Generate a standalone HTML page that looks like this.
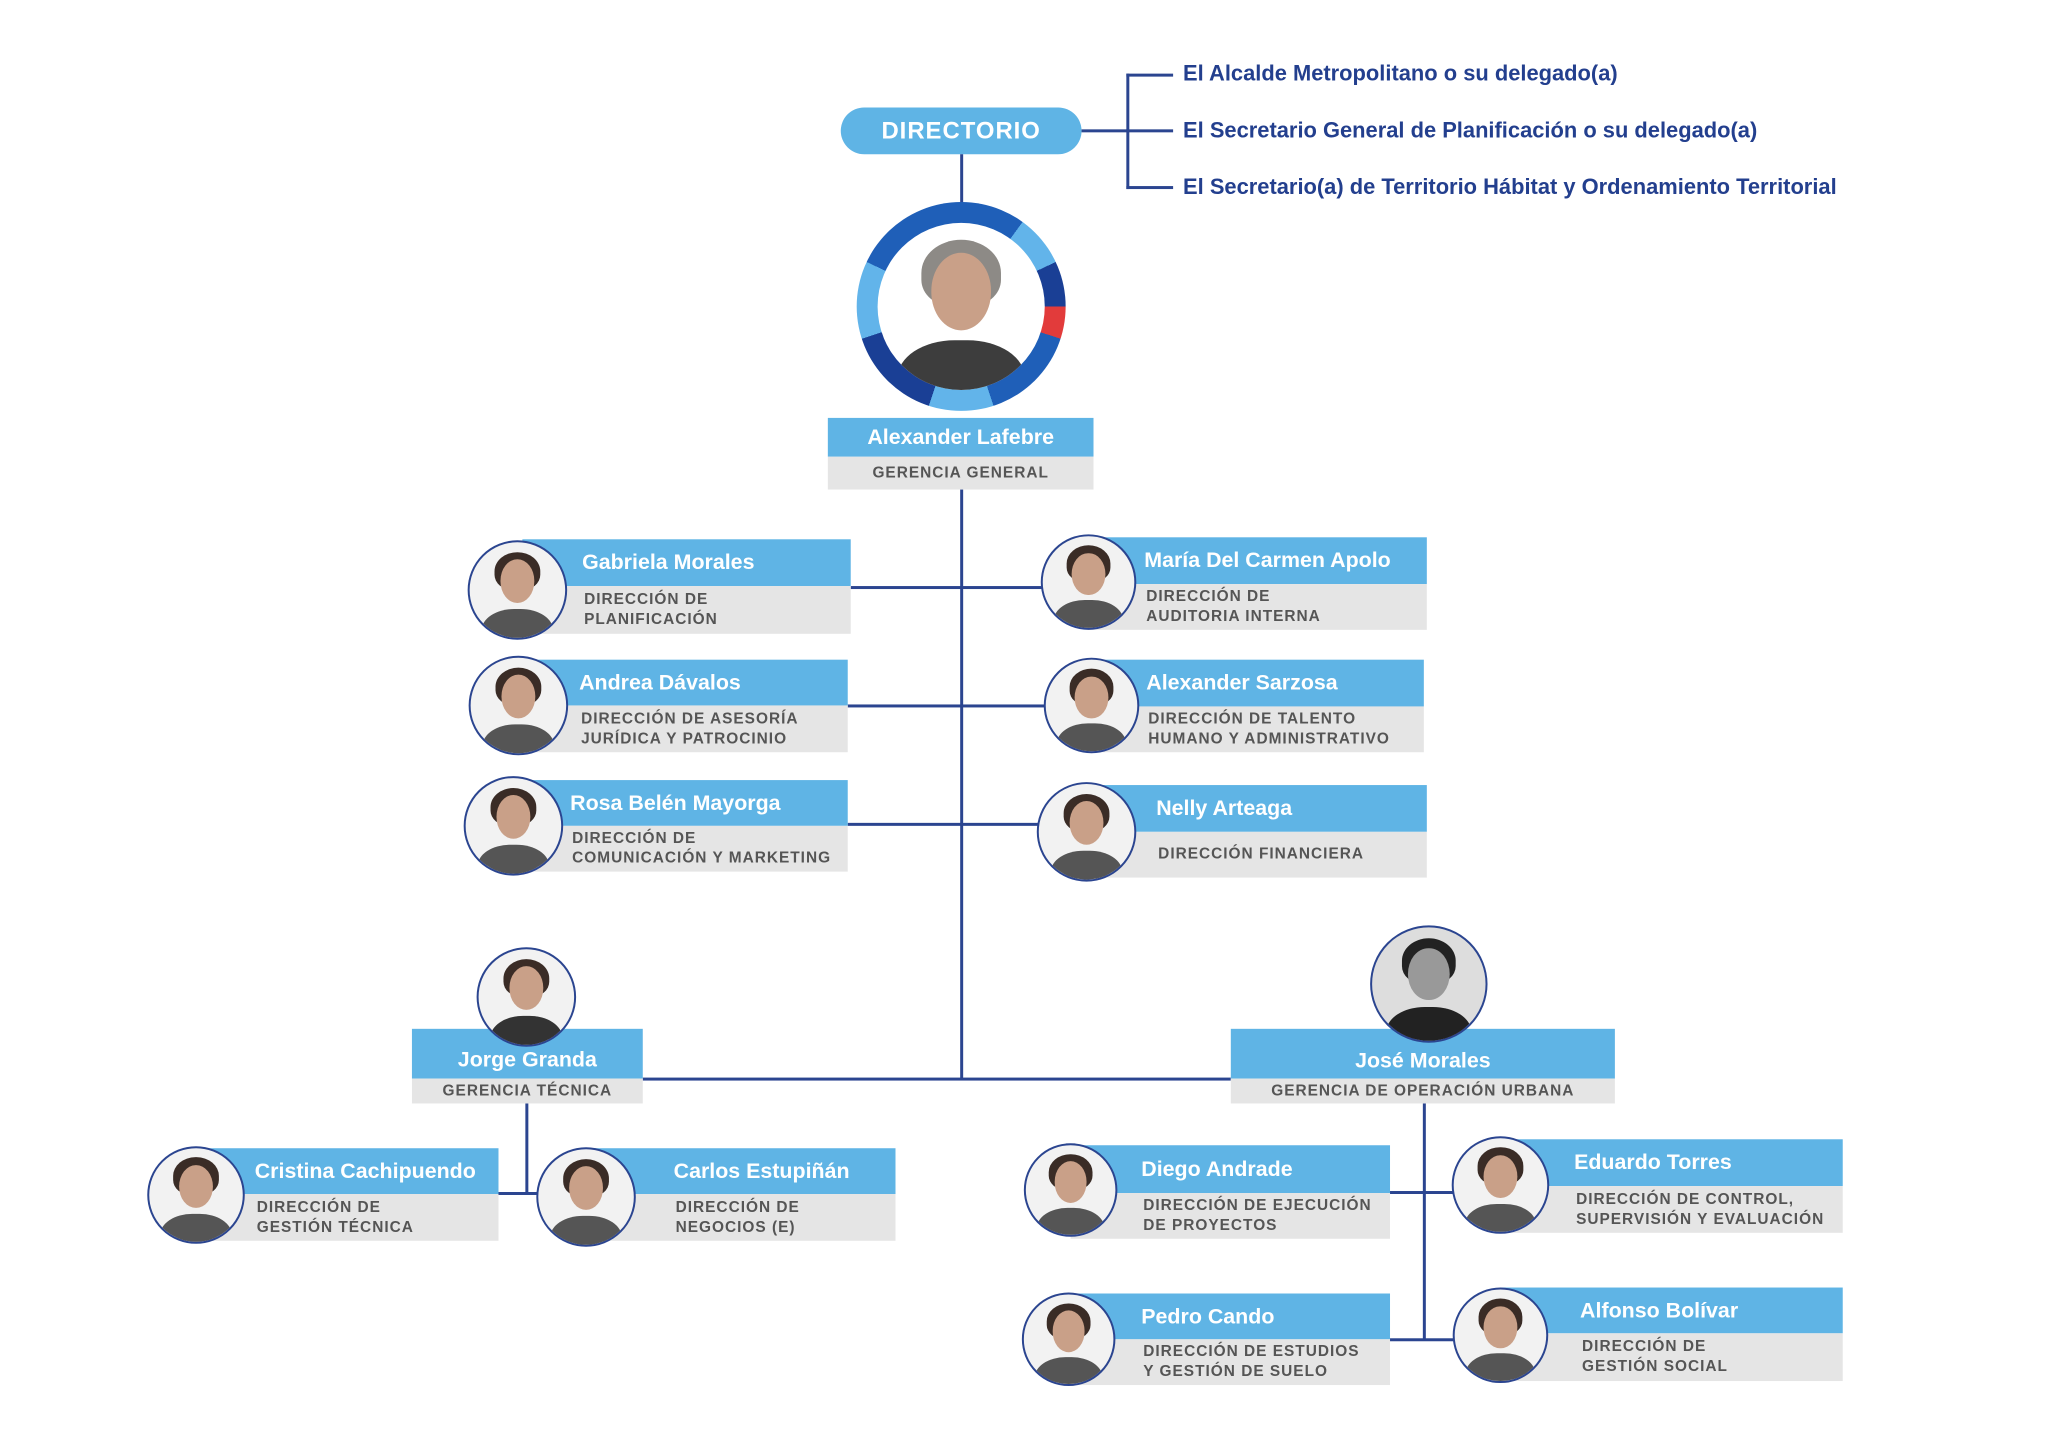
<!DOCTYPE html>
<html><head><meta charset="utf-8"><style>
body{margin:0;width:2048px;height:1448px;background:#fff;position:relative;overflow:hidden;font-family:"Liberation Sans",sans-serif;}
#w{position:absolute;left:0;top:0;width:2048px;height:1448px;transform:scale(0.995);transform-origin:0 0;}
.a{position:absolute;}
.ln{position:absolute;background:#2b4590;}
.blue{position:absolute;background:#5fb4e5;color:#fff;font-weight:bold;font-size:21.5px;display:flex;align-items:center;box-sizing:border-box;}
.gray{position:absolute;background:#e5e5e5;color:#555;font-weight:bold;font-size:15.5px;letter-spacing:1px;line-height:20px;display:flex;flex-direction:column;justify-content:center;box-sizing:border-box;}
.ph{position:absolute;border-radius:50%;border:2px solid #2b4590;background:#f2f2f2;overflow:hidden;box-sizing:border-box;}
.ph .head{position:absolute;left:32%;top:18%;width:36%;height:46%;border-radius:50%;background:#c9a088;}
.ph .hair{position:absolute;left:26%;top:10%;width:48%;height:40%;border-radius:50% 50% 40% 40%;background:#3a2c26;}
.ph .body{position:absolute;left:12%;top:70%;width:76%;height:50%;border-radius:45% 45% 0 0;background:#555;}
.dtx{position:absolute;color:#233f8e;font-weight:bold;font-size:22px;white-space:nowrap;}
</style></head><body><div id="w">

<div class="a" style="left:845px;top:108px;width:242px;height:47px;border-radius:24px;background:#5fb4e5;color:#fff;font-weight:bold;font-size:24px;letter-spacing:1px;display:flex;align-items:center;justify-content:center;">DIRECTORIO</div>
<div class="ln" style="left:1087px;top:130px;width:46px;height:3px"></div>
<div class="ln" style="left:1132px;top:74px;width:3px;height:116px"></div>
<div class="ln" style="left:1132px;top:74px;width:47px;height:3px"></div>
<div class="ln" style="left:1132px;top:130px;width:47px;height:3px"></div>
<div class="ln" style="left:1132px;top:187px;width:47px;height:3px"></div>
<div class="dtx" style="left:1189px;top:61px">El Alcalde Metropolitano o su delegado(a)</div>
<div class="dtx" style="left:1189px;top:118px">El Secretario General de Planificación o su delegado(a)</div>
<div class="dtx" style="left:1189px;top:175px">El Secretario(a) de Territorio Hábitat y Ordenamiento Territorial</div>

<div class="ln" style="left:965px;top:155px;width:3px;height:50px"></div>
<div class="ln" style="left:965px;top:492px;width:3px;height:593px"></div>
<div class="ln" style="left:646px;top:1083px;width:591px;height:3px"></div>
<div class="ln" style="left:855px;top:589px;width:239px;height:3px"></div>
<div class="ln" style="left:852px;top:708px;width:245px;height:3px"></div>
<div class="ln" style="left:852px;top:827px;width:240px;height:3px"></div>
<div class="ln" style="left:528px;top:1109px;width:3px;height:91px"></div>
<div class="ln" style="left:501px;top:1198px;width:88px;height:3px"></div>
<div class="ln" style="left:1430px;top:1109px;width:3px;height:238px"></div>
<div class="ln" style="left:1397px;top:1197px;width:111px;height:3px"></div>
<div class="ln" style="left:1397px;top:1345px;width:111px;height:3px"></div>

<div class="a" style="left:861px;top:203px;width:210px;height:210px;border-radius:50%;background:conic-gradient(#1f5fb8 0 10%,#62b4ea 10% 18%,#1a3f95 18% 25%,#e23b3b 25% 30%,#1f5fb8 30% 45%,#62b4ea 45% 55%,#1a3f95 55% 70%,#62b4ea 70% 82%,#1f5fb8 82% 100%);"></div>
<div class="ph" style="left:882px;top:224px;width:168px;height:168px;border:none;background:#fff"><div class="hair" style="background:#8d8a86"></div><div class="head"></div><div class="body" style="background:#3d3d3d"></div></div>
<div class="blue" style="left:832px;top:420px;width:267px;height:39px;justify-content:center">Alexander Lafebre</div>
<div class="gray" style="left:832px;top:459px;width:267px;height:33px;align-items:center">GERENCIA GENERAL</div>

<div id="c"></div>
</div>
<script>
var d=[
[520,593,50,525,855,542,589,637,"Gabriela Morales",["DIRECCIÓN DE","PLANIFICACIÓN"],585],
[521,709,50,525,852,663,709,756,"Andrea Dávalos",["DIRECCIÓN DE ASESORÍA","JURÍDICA Y PATROCINIO"],582],
[516,830,50,520,852,784,830,876,"Rosa Belén Mayorga",["DIRECCIÓN DE","COMUNICACIÓN Y MARKETING"],573],
[1094,585,48,1094,1434,540,587,633,"María Del Carmen Apolo",["DIRECCIÓN DE","AUDITORIA INTERNA"],1150],
[1097,709,48,1097,1431,663,710,756,"Alexander Sarzosa",["DIRECCIÓN DE TALENTO","HUMANO Y ADMINISTRATIVO"],1152],
[1092,836,50,1092,1434,789,836,882,"Nelly Arteaga",["DIRECCIÓN FINANCIERA"],1162],
[197,1201,49,197,501,1154,1200,1247,"Cristina Cachipuendo",["DIRECCIÓN DE","GESTIÓN TÉCNICA"],256],
[589,1203,50,589,900,1154,1200,1247,"Carlos Estupiñán",["DIRECCIÓN DE","NEGOCIOS (E)"],677],
[1076,1196,47,1076,1397,1151,1199,1245,"Diego Andrade",["DIRECCIÓN DE EJECUCIÓN","DE PROYECTOS"],1147],
[1508,1191,49,1508,1852,1145,1192,1239,"Eduardo Torres",["DIRECCIÓN DE CONTROL,","SUPERVISIÓN Y EVALUACIÓN"],1582],
[1074,1346,47,1074,1397,1300,1346,1392,"Pedro Cando",["DIRECCIÓN DE ESTUDIOS","Y GESTIÓN DE SUELO"],1147],
[1508,1342,48,1508,1852,1294,1340,1388,"Alfonso Bolívar",["DIRECCIÓN DE","GESTIÓN  SOCIAL"],1588]
];
var h="";
d.forEach(function(e){
h+='<div class="blue" style="left:'+e[3]+'px;top:'+e[5]+'px;width:'+(e[4]-e[3])+'px;height:'+(e[6]-e[5])+'px;padding-left:'+(e[10]-e[3])+'px">'+e[8]+'</div>';
h+='<div class="gray" style="left:'+e[3]+'px;top:'+e[6]+'px;width:'+(e[4]-e[3])+'px;height:'+(e[7]-e[6])+'px;padding-left:'+(e[10]-e[3]+2)+'px">'+e[9].map(function(s){return '<div>'+s+'</div>'}).join('')+'</div>';
h+='<div class="ph" style="left:'+(e[0]-e[2])+'px;top:'+(e[1]-e[2])+'px;width:'+(2*e[2])+'px;height:'+(2*e[2])+'px"><div class="hair"></div><div class="head"></div><div class="body"></div></div>';
});
h+='<div class="blue" style="left:414px;top:1034px;width:232px;height:50px;justify-content:center;padding-top:12px">Jorge Granda</div>';
h+='<div class="gray" style="left:414px;top:1084px;width:232px;height:25px;align-items:center">GERENCIA TÉCNICA</div>';
h+='<div class="ph" style="left:479px;top:952px;width:100px;height:100px"><div class="hair"></div><div class="head"></div><div class="body" style="background:#333"></div></div>';
h+='<div class="blue" style="left:1237px;top:1034px;width:386px;height:50px;justify-content:center;padding-top:14px">José Morales</div>';
h+='<div class="gray" style="left:1237px;top:1084px;width:386px;height:25px;align-items:center">GERENCIA DE OPERACIÓN URBANA</div>';
h+='<div class="ph" style="left:1377px;top:930px;width:118px;height:118px;background:#ddd"><div class="hair" style="background:#222"></div><div class="head" style="background:#999"></div><div class="body" style="background:#222"></div></div>';
document.getElementById("c").innerHTML=h;
</script>
</body></html>
